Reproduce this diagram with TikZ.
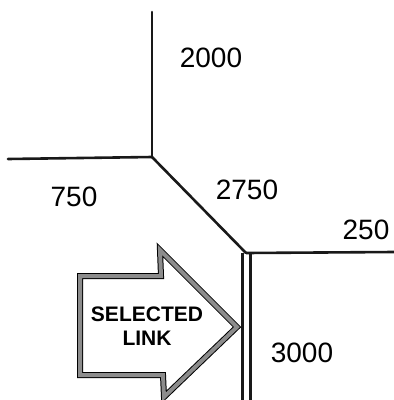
\documentclass[tikz,border=0pt]{standalone}
\usepackage{fontspec}
\setmainfont{Liberation Sans}
\usepackage{tikz}
\usetikzlibrary{positioning}
\colorlet{roadgray}{black!90}
\colorlet{arrowgray}{black!45}

\begin{document}
\begin{tikzpicture}[x=1pt, y=-1pt, font=\fontsize{28}{30}\selectfont]
    \useasboundingbox (0,0) rectangle (394,400);

    % Junctions and road ends
    \coordinate (north) at (152, 12);
    \coordinate (west) at (8, 159);
    \coordinate (jA) at (152, 157);
    \coordinate (jB) at (246, 253);
    \coordinate (east) at (394, 252);
    \coordinate (south) at (246, 400);

    % Roads
    \draw[roadgray, line width=2.6pt, line cap=round] (north) -- (jA);
    \draw[roadgray, line width=2.6pt, line cap=round] (west) -- (jA);
    \draw[roadgray, line width=2.6pt, line cap=round] (jA) -- (jB);
    \draw[roadgray, line width=2.6pt] (jB) -- (east);

    % Selected link (double line)
    \draw[roadgray, line width=3pt] ([xshift=-4pt]jB) -- ([xshift=-4pt]south);
    \draw[roadgray, line width=3pt] ([xshift=4pt]jB) -- ([xshift=4pt]south);

    % Volumes
    \node (v2000) at (211, 58) {2000};
    \node (v750) at (74, 197) {750};
    \node (v2750) at (247, 190) {2750};
    \node (v250) at (366, 230) {250};
    \node (v3000) at (302, 353) {3000};

    % Big arrow
    \draw[line width=1pt, double=arrowgray, double distance=4pt, line join=miter]
        (80, 276) -- (161, 276) -- (160, 250) -- (237, 327) -- (164, 397)
        -- (163, 375) -- (80, 375) -- cycle;
    \node[font=\fontsize{21}{23}\selectfont\bfseries, align=center] (sel) at (147, 326)
        {SELECTED\\[1pt]LINK};
\end{tikzpicture}
\end{document}
